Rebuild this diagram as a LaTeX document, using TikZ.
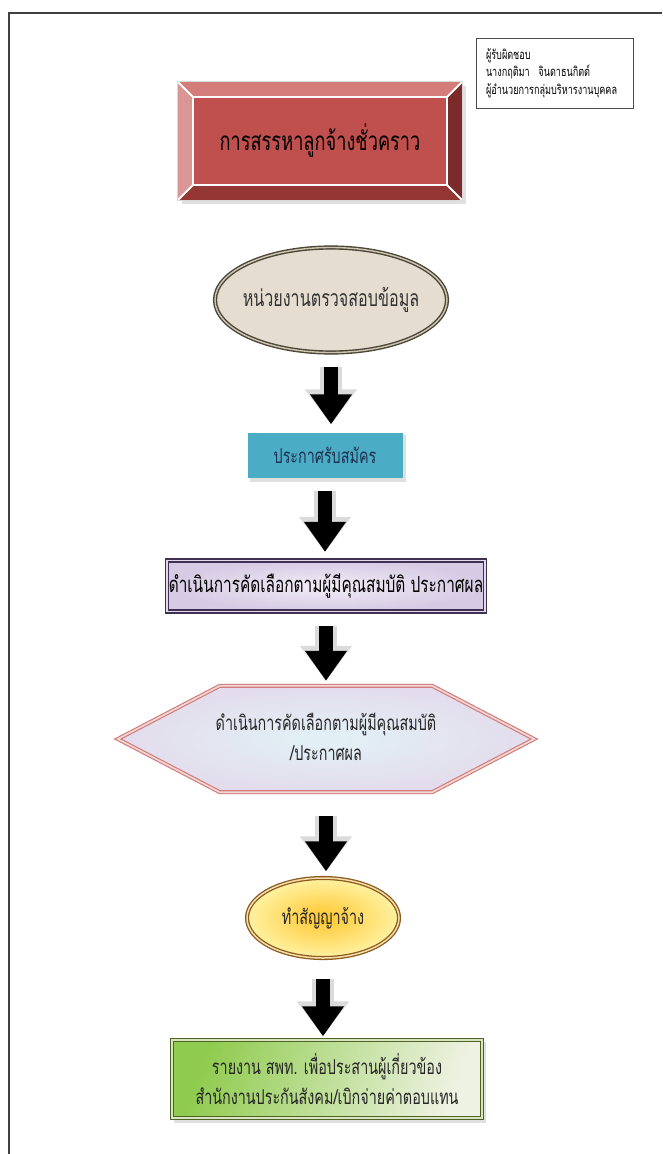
\documentclass[tikz,border=0pt]{standalone}
\usepackage{fontspec}
\newfontfamily\thai[Script=Thai,FakeStretch=0.7]{Loma}
\usetikzlibrary{arrows.meta,calc,shapes.geometric}
\pgfdeclarelayer{background}
\pgfdeclarelayer{paper}
\pgfsetlayers{paper,background,main}
\definecolor{framegray}{HTML}{404040}
\definecolor{titlered}{HTML}{C0504D}
\definecolor{bevtop}{HTML}{D47C79}
\definecolor{bevleft}{HTML}{DA9694}
\definecolor{bevright}{HTML}{7B2C2A}
\definecolor{bevbot}{HTML}{943634}
\definecolor{parch}{HTML}{E4DDD0}
\definecolor{parchline}{HTML}{4A4536}
\definecolor{parchgap}{HTML}{CFC6B2}
\definecolor{aqua}{HTML}{4BACC6}
\definecolor{navytext}{HTML}{1F3050}
\definecolor{purpleline}{HTML}{3F3151}
\definecolor{lavender}{HTML}{D6CAE4}
\definecolor{lavlight}{HTML}{F1EDF6}
\definecolor{pinkline}{HTML}{D27D7B}
\definecolor{pinkgap}{HTML}{F4D9D8}
\definecolor{hexin}{HTML}{E2F1F6}
\definecolor{hexout}{HTML}{E3DCEC}
\definecolor{goldline}{HTML}{8B5A1E}
\definecolor{goldgap}{HTML}{F5DFA8}
\definecolor{goldin}{HTML}{FFC62E}
\definecolor{goldout}{HTML}{FFF2A2}
\definecolor{greenline}{HTML}{4F6228}
\definecolor{greengap}{HTML}{D7E4BD}
\definecolor{greendark}{HTML}{8FCB4E}
\definecolor{greenlight}{HTML}{EEF2E2}
\tikzset{
  notebox/.style={draw=black!70, line width=0.8pt, rectangle, minimum width=157pt, minimum height=70pt,
    text width=138pt, align=left, inner sep=0pt, font=\thai\fontsize{13}{17.5}\selectfont},
  titlebox/.style={rectangle, fill=titlered, minimum width=254pt, minimum height=88pt, inner sep=0pt,
    font=\thai\fontsize{26}{30}\selectfont, text=black},
  parchell/.style={ellipse, minimum width=232pt, minimum height=105pt, inner xsep=-14pt, inner ysep=0pt, fill=parch,
    draw=parchline, line width=1.4pt, double=parchgap, double distance=1.4pt,
    font=\thai\fontsize{23}{26}\selectfont, text=black!80},
  aquabox/.style={rectangle, fill=aqua, minimum width=155pt, minimum height=45pt, inner sep=0pt,
    font=\thai\fontsize{20.5}{24}\selectfont, text=navytext},
  purplebox/.style={rectangle, minimum width=318pt, minimum height=51pt, inner sep=0pt,
    shading=radial, inner color=lavlight, outer color=lavender,
    draw=purpleline, line width=1.3pt, double=lavender!70, double distance=1.5pt,
    font=\thai\fontsize{22}{25}\selectfont, text=black},
  hexbox/.style={rectangle, minimum width=416pt, minimum height=102pt, inner sep=0pt, align=center,
    font=\thai\fontsize{20.5}{30}\selectfont, text=black!85},
  hexline/.style={draw=pinkline, line width=1.2pt, double=pinkgap, double distance=1.6pt,
    shading=radial, inner color=hexin, outer color=hexout},
  goldell/.style={ellipse, minimum width=152pt, minimum height=80pt, inner sep=0pt,
    shading=radial, inner color=goldin, outer color=goldout,
    draw=goldline, line width=1.3pt, double=goldgap, double distance=1.5pt,
    font=\thai\fontsize{20.5}{24}\selectfont, text=black!85},
  greenbox/.style={rectangle, minimum width=310pt, minimum height=78pt, inner sep=0pt, align=center,
    left color=greendark, right color=greenlight, shading angle=70,
    draw=greenline, line width=1.4pt, double=greengap, double distance=1.5pt,
    font=\thai\fontsize{20.5}{30}\selectfont, text=black!85},
  flowarrow/.style={draw=black, line width=14pt, -{Triangle[width=40pt,length=30pt]},
    preaction={draw=black!14, line width=22pt, -{Triangle[width=50pt,length=35pt]}}},
  shadowfill/.style={fill=black!12}
}
\begin{document}
\begin{tikzpicture}[x=1pt,y=-1pt]
\useasboundingbox (0,0) rectangle (662,1154);
\begin{pgfonlayer}{paper}
\fill[white] (0,0) rectangle (662,1154);
\end{pgfonlayer}
% page frame
\draw[framegray, line width=1.6pt] (9,1154) -- (9,13) -- (662,13);

% note
\node[notebox] (note) at (555,73) {ผู้รับผิดชอบ\\นางกฤติมา\ \ จินดาธนกิตต์\\ผู้อำนวยการกลุ่มบริหารงานบุคคล};

% title bevel box
\node[titlebox] (title) at (320,141) {การสรรหาลูกจ้างชั่วคราว};
\coordinate (tNW) at ($(title.north west)+(-15,-15)$);
\coordinate (tNE) at ($(title.north east)+(15,-15)$);
\coordinate (tSE) at ($(title.south east)+(15,15)$);
\coordinate (tSW) at ($(title.south west)+(-15,15)$);
\begin{pgfonlayer}{background}
\fill[shadowfill] ($(tNW)+(4,4)$) rectangle ($(tSE)+(4,4)$);
\end{pgfonlayer}
\fill[bevtop] (tNW) -- (tNE) -- (title.north east) -- (title.north west) -- cycle;
\fill[bevleft] (tNW) -- (tSW) -- (title.south west) -- (title.north west) -- cycle;
\fill[bevright] (tNE) -- (tSE) -- (title.south east) -- (title.north east) -- cycle;
\fill[bevbot] (tSW) -- (tSE) -- (title.south east) -- (title.south west) -- cycle;
\draw[white, line width=2pt] (title.north west) rectangle (title.south east);
\draw[white, line width=2pt] (tNW) -- (title.north west) (tNE) -- (title.north east)
  (tSE) -- (title.south east) (tSW) -- (title.south west);
\draw[white!85!black, line width=1pt] (tNW) rectangle (tSE);

% check data
\node[parchell] (check) at (331,300) {หน่วยงานตรวจสอบข้อมูล};

% announce
\node[aquabox] (announce) at (325,455) {ประกาศรับสมัคร};
\begin{pgfonlayer}{background}
\fill[shadowfill] ($(announce.north west)+(3,3)$) rectangle ($(announce.south east)+(3,4)$);
\end{pgfonlayer}

% selection
\node[purplebox] (select) at (326,586) {ดำเนินการคัดเลือกตามผู้มีคุณสมบัติ ประกาศผล};

% hexagon
\node[hexbox] (result) at (326,737) {ดำเนินการคัดเลือกตามผู้มีคุณสมบัติ\\/ประกาศผล};
\begin{pgfonlayer}{background}
\path[hexline] ($(result.west)+(0,2)$) -- ($(result.north west)+(102,0)$) -- ($(result.north east)+(-102,0)$)
  -- ($(result.east)+(0,2)$) -- ($(result.south east)+(-102,4)$) -- ($(result.south west)+(102,4)$) -- cycle;
\end{pgfonlayer}

% contract
\node[goldell] (contract) at (323,918) {ทำสัญญาจ้าง};

% report
\node[greenbox] (report) at (327,1079) {รายงาน สพท. เพื่อประสานผู้เกี่ยวข้อง\\สำนักงานประกันสังคม/เบิกจ่ายค่าตอบแทน};
\begin{pgfonlayer}{background}
\fill[shadowfill] ($(report.north west)+(3,3)$) rectangle ($(report.south east)+(3,4)$);
\end{pgfonlayer}

% arrows
\draw[flowarrow, shorten <=14pt, shorten >=8pt] (check.south) -- (check.south |- announce.north);
\draw[flowarrow, shorten <=13pt, shorten >=8pt] (announce.south) -- (announce.south |- select.north);
\draw[flowarrow, shorten <=14pt, shorten >=5pt] (select.south) -- (select.south |- result.north);
\draw[flowarrow, shorten <=28pt, shorten >=6pt] (result.south) -- (result.south |- contract.north);
\draw[flowarrow, shorten <=20pt, shorten >=3pt] (contract.south) -- (contract.south |- report.north);
\end{tikzpicture}
\end{document}
